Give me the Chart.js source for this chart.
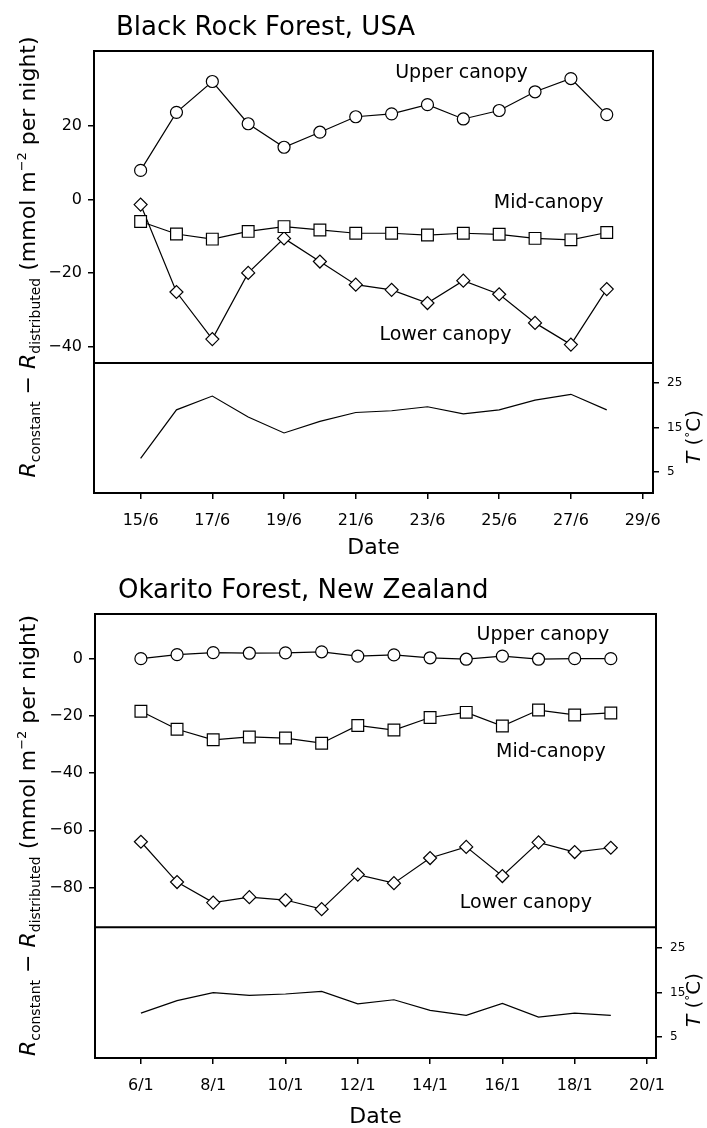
<!DOCTYPE html>
<html>
<head>
<meta charset="utf-8">
<script src="https://cdn.jsdelivr.net/npm/chart.js@4.4.1/dist/chart.umd.min.js"></script>
<style>
  html, body { margin: 0; padding: 0; background: #fff; }
  .panel { width: 707px; }
</style>
</head>
<body>
<div class="panel"><canvas id="blackRock" width="707" height="560"></canvas></div>
<div class="panel"><canvas id="okarito" width="707" height="568"></canvas></div>
<script>
// Black Rock Forest, USA -- nights in June
const brDays = [15, 16, 17, 18, 19, 20, 21, 22, 23, 24, 25, 26, 27, 28];
const brUpper = [7.9, 23.7, 32.1, 20.6, 14.2, 18.3, 22.5, 23.3, 25.8, 21.9, 24.2, 29.3, 32.9, 23.1];
const brMid = [-6.0, -9.4, -10.8, -8.7, -7.4, -8.3, -9.2, -9.2, -9.7, -9.2, -9.5, -10.6, -11.0, -9.0];
const brLower = [-1.4, -25.2, -38.0, -20.0, -10.6, -16.9, -23.2, -24.6, -28.2, -22.1, -25.8, -33.6, -39.5, -24.4];
const brTemp = [8.1, 19.0, 22.1, 17.4, 13.8, 16.4, 18.4, 18.8, 19.7, 18.1, 19.0, 21.2, 22.5, 19.0];
const brTickDays = [15, 17, 19, 21, 23, 25, 27, 29];
const brTickLabels = ['15/6', '17/6', '19/6', '21/6', '23/6', '25/6', '27/6', '29/6'];
const brRespTicks = [20, 0, -20, -40];

// Okarito Forest, New Zealand -- nights in January
const okDays = [6, 7, 8, 9, 10, 11, 12, 13, 14, 15, 16, 17, 18, 19];
const okUpper = [0.1, 1.5, 2.2, 2.0, 2.1, 2.5, 1.0, 1.4, 0.4, -0.1, 1.0, -0.1, 0.1, 0.1];
const okMid = [-18.3, -24.6, -28.3, -27.3, -27.7, -29.5, -23.3, -24.9, -20.5, -18.7, -23.5, -17.9, -19.6, -18.9];
const okLower = [-64.0, -78.1, -85.3, -83.4, -84.4, -87.6, -75.5, -78.5, -69.7, -65.8, -76.0, -64.2, -67.6, -66.1];
const okTemp = [10.4, 13.2, 15.0, 14.4, 14.7, 15.3, 12.5, 13.4, 11.0, 9.9, 12.6, 9.5, 10.4, 9.9];
const okTickDays = [6, 8, 10, 12, 14, 16, 18, 20];
const okTickLabels = ['6/1', '8/1', '10/1', '12/1', '14/1', '16/1', '18/1', '20/1'];
const okRespTicks = [0, -20, -40, -60, -80];

const tempTicks = [5, 15, 25];
const canopyNames = ['Upper canopy', 'Mid-canopy', 'Lower canopy'];

const FONT = "'DejaVu Sans', sans-serif";

function fontStr(size, italic) {
    return (italic ? 'italic ' : '') + size + 'px ' + FONT;
}

// draws a run of text pieces (sub/superscripts) centred on cx
function drawRich(ctx, parts, cx, cy) {
    let total = 0;
    parts.forEach(p => {
        ctx.font = fontStr(p.size, p.italic);
        p.w = ctx.measureText(p.text).width;
        total += p.w;
    });
    let x = cx - total / 2;
    ctx.textAlign = 'left';
    ctx.textBaseline = 'alphabetic';
    parts.forEach(p => {
        ctx.font = fontStr(p.size, p.italic);
        ctx.fillText(p.text, x, cy + (p.shift || 0));
        x += p.w;
    });
}

const leftTitle = [
    {text: 'R', size: 22, italic: true},
    {text: 'constant', size: 14, shift: 5},
    {text: ' \u2212 ', size: 22},
    {text: 'R', size: 22, italic: true},
    {text: 'distributed', size: 14, shift: 5},
    {text: ' (mmol m', size: 22},
    {text: '\u22122', size: 13, shift: -9},
    {text: ' per night)', size: 22}
];
const rightTitle = [
    {text: 'T', size: 20, italic: true},
    {text: ' (', size: 20},
    {text: '\u00b0', size: 12, shift: -6},
    {text: 'C)', size: 20}
];

const panelDecor = {
    id: 'panelDecor',
    afterDraw(chart, args, opts) {
        const {ctx, chartArea: a, scales} = chart;
        ctx.save();
        ctx.strokeStyle = '#000';
        ctx.lineWidth = 2;
        ctx.strokeRect(a.left, a.top, a.right - a.left, a.bottom - a.top);
        const yd = scales.y.getPixelForValue(opts.divider);
        ctx.beginPath();
        ctx.moveTo(a.left, yd);
        ctx.lineTo(a.right, yd);
        ctx.stroke();

        ctx.fillStyle = '#000';
        ctx.font = fontStr(26);
        ctx.textAlign = 'left';
        ctx.textBaseline = 'alphabetic';
        ctx.fillText(opts.title, opts.titleX, opts.titleY);

        ctx.font = fontStr(19);
        ctx.textAlign = 'center';
        ctx.textBaseline = 'middle';
        opts.labels.forEach((l, i) => {
            ctx.fillText(canopyNames[i], scales.x.getPixelForValue(l[0]), scales.y.getPixelForValue(l[1]));
        });

        ctx.save();
        ctx.translate(opts.leftTitleX, opts.leftTitleY);
        ctx.rotate(-Math.PI / 2);
        drawRich(ctx, leftTitle, 0, 0);
        ctx.restore();

        ctx.save();
        ctx.translate(opts.rightTitleX, opts.rightTitleY);
        ctx.rotate(-Math.PI / 2);
        drawRich(ctx, rightTitle, 0, 0);
        ctx.restore();
        ctx.restore();
    }
};

function canopySet(label, days, values, style, radius) {
    return {
        label: label,
        data: days.map((d, i) => ({x: d, y: values[i]})),
        yAxisID: 'y',
        borderColor: '#000',
        borderWidth: 1.2,
        pointStyle: style,
        pointRadius: radius,
        pointBackgroundColor: '#fff',
        pointBorderColor: '#000',
        pointBorderWidth: 1.2
    };
}

function minusSign(v) {
    return v < 0 ? '\u2212' + Math.abs(v) : String(v);
}

function makePanel(canvasId, p) {
    const tickGrid = {drawOnChartArea: false, drawTicks: true, tickLength: 6, color: '#000', lineWidth: 1.5};
    return new Chart(document.getElementById(canvasId), {
        type: 'line',
        data: {
            datasets: [
                canopySet('Upper canopy', p.days, p.upper, 'circle', 6),
                canopySet('Mid-canopy', p.days, p.mid, 'rect', 8.3),
                canopySet('Lower canopy', p.days, p.lower, 'rectRot', 6.5),
                {
                    label: 'T',
                    data: p.days.map((d, i) => ({x: d, y: p.temp[i]})),
                    yAxisID: 'y2',
                    borderColor: '#000',
                    borderWidth: 1.2,
                    pointRadius: 0
                }
            ]
        },
        options: {
            responsive: false,
            animation: false,
            layout: {padding: {top: p.padTop, left: 0, right: 0, bottom: 0}},
            plugins: {
                legend: {display: false},
                tooltip: {enabled: false},
                panelDecor: p.decor
            },
            scales: {
                x: {
                    type: 'linear',
                    min: p.xMin, max: p.xMax,
                    afterBuildTicks: s => { s.ticks = p.tickDays.map(v => ({value: v})); },
                    afterFit: s => { s.height = p.xHeight; },
                    grid: tickGrid,
                    border: {display: false},
                    ticks: {
                        autoSkip: false, maxRotation: 0, padding: 12, color: '#000',
                        font: {family: FONT, size: 16},
                        callback: (v, i) => p.tickLabels[i]
                    },
                    title: {
                        display: true, text: 'Date', color: '#000',
                        font: {family: FONT, size: 22, lineHeight: 1},
                        padding: {top: 0, bottom: p.datePad}
                    }
                },
                y: {
                    type: 'linear', position: 'left',
                    min: p.yMin, max: p.yMax,
                    afterBuildTicks: s => { s.ticks = p.respTicks.map(v => ({value: v})); },
                    afterFit: s => { s.width = p.yWidth; },
                    grid: tickGrid,
                    border: {display: false},
                    ticks: {padding: 6, color: '#000', font: {family: FONT, size: 16}, callback: v => minusSign(v)}
                },
                y2: {
                    type: 'linear', position: 'right',
                    min: p.tMin, max: p.tMax,
                    afterBuildTicks: s => { s.ticks = tempTicks.map(v => ({value: v})); },
                    afterFit: s => { s.width = p.y2Width; },
                    grid: tickGrid,
                    border: {display: false},
                    ticks: {padding: 8, color: '#000', font: {family: FONT, size: 12}}
                }
            }
        },
        plugins: [panelDecor]
    });
}

makePanel('blackRock', {
    days: brDays, upper: brUpper, mid: brMid, lower: brLower, temp: brTemp,
    tickDays: brTickDays, tickLabels: brTickLabels, respTicks: brRespTicks,
    xMin: 13.7, xMax: 29.29, yMin: -79.9, yMax: 40.4, tMin: 0.3, tMax: 99.7,
    padTop: 51, xHeight: 67, yWidth: 94, y2Width: 54, datePad: 1,
    decor: {
        title: 'Black Rock Forest, USA', titleX: 116, titleY: 35,
        divider: -44.5,
        labels: [[23.95, 34.3], [26.38, -1.0], [23.5, -36.8]],
        leftTitleX: 35, leftTitleY: 257,
        rightTitleX: 700, rightTitleY: 437
    }
});

makePanel('okarito', {
    days: okDays, upper: okUpper, mid: okMid, lower: okLower, temp: okTemp,
    tickDays: okTickDays, tickLabels: okTickLabels, respTicks: okRespTicks,
    xMin: 4.73, xMax: 20.25, yMin: -139.7, yMax: 15.73, tMin: 0.3, tMax: 100.2,
    padTop: 54, xHeight: 70, yWidth: 95, y2Width: 51, datePad: 0,
    decor: {
        title: 'Okarito Forest, New Zealand', titleX: 118, titleY: 38,
        divider: -93.9,
        labels: [[17.12, 8.3], [17.34, -32.5], [16.65, -85.3]],
        leftTitleX: 35, leftTitleY: 275.5,
        rightTitleX: 700, rightTitleY: 440
    }
});
</script>
</body>
</html>
